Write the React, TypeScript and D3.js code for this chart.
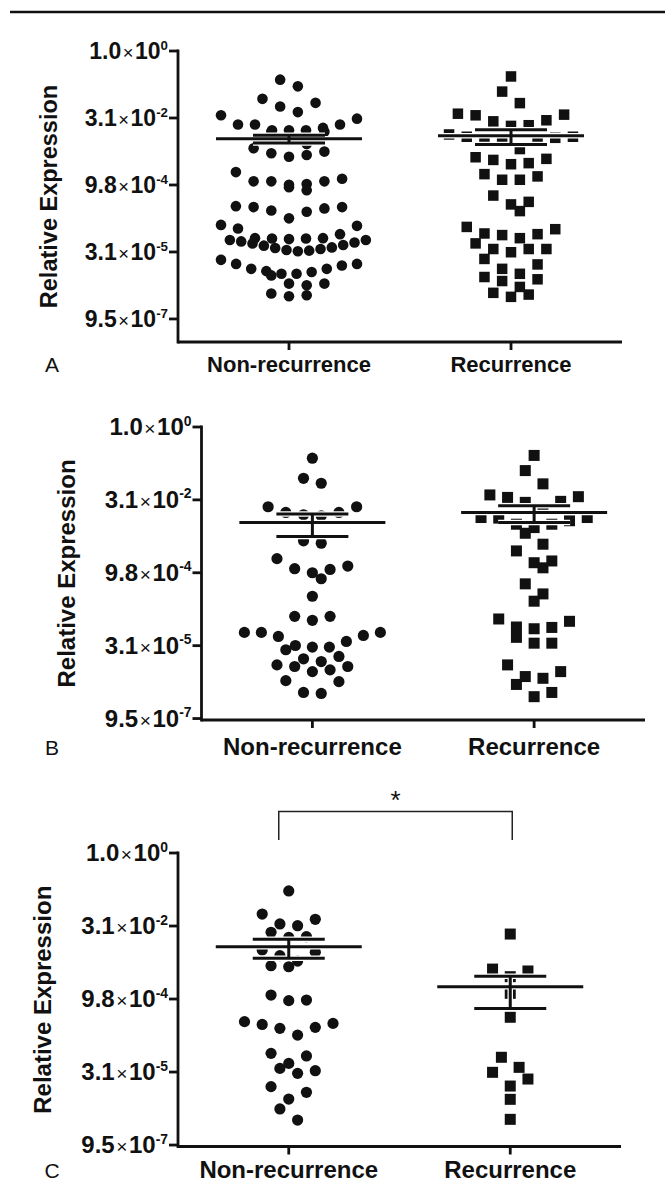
import * as d3 from "d3";

// ---------- DATA ----------
const categories = ["Non-recurrence", "Recurrence"];
const tickExponents = [0, -5, -10, -15, -20];
const tickMantissas = ["1.0", "3.1", "9.8", "3.1", "9.5"];
const tickPowers = ["0", "-2", "-4", "-5", "-7"];

// log2(relative expression)
const aNonRec = [
  -2.14, -2.64, -3.57, -3.87, -4.14, -4.56,
  -4.8, -5.05, -5.49, -5.49, -5.49, -5.74, -5.91, -5.91, -5.91, -6.03, -6.03,
  -6.64, -6.94, -7.26, -7.51, -7.63, -7.76, -7.89,
  -9.04,
  -9.53, -9.73, -9.73, -9.73, -9.93, -9.98, -10.17, -10.39,
  -11.58, -11.65, -11.65, -11.75, -11.9, -12.0,
  -12.49, -12.98, -13.05, -13.25, -13.67,
  -13.97, -13.97, -13.99, -13.99, -14.04, -14.11, -14.11, -14.21, -14.29,
  -14.36, -14.48, -14.53, -14.66, -14.7, -14.78, -14.85, -14.9, -14.95,
  -15.59, -15.89, -15.89, -16.01, -16.26, -16.26, -16.43, -16.5, -16.63, -16.63, -16.75,
  -17.36, -17.36, -17.49,
  -18.1, -18.23, -18.3,
];
const aRec = [
  -1.9, -3.03, -3.89,
  -4.68, -4.75, -4.8, -5.17, -5.25, -5.54, -5.59,
  -6.23, -6.4, -6.4, -6.48, -6.53, -6.7, -6.77, -7.32,
  -7.93, -8.05, -8.13, -8.37, -8.45,
  -9.19, -9.36, -9.61, -9.61,
  -10.79, -11.26, -11.45, -11.95,
  -13.13, -13.3, -13.62, -13.67, -13.74, -13.97,
  -14.36, -14.78, -14.78, -14.78, -15.02, -15.52,
  -15.93, -16.26, -16.63, -16.87, -17.04, -17.17,
  -17.61, -18.05, -18.18, -18.35,
];
const aMeans = [0.0107, 0.0124];
const aSems = [0.0021, 0.0045];

const bNonRec = [
  -2.14, -3.52, -3.86,
  -5.47, -5.47, -5.86, -5.86, -6.02, -6.09,
  -7.81, -7.97,
  -9.03, -9.54, -9.72, -9.77, -10.0, -10.41,
  -11.61,
  -12.99, -12.99, -13.26,
  -14.09, -14.09, -14.09, -14.3, -14.37, -14.71, -14.99, -15.1, -15.1, -15.28,
  -15.74, -15.9,
  -16.09, -16.32, -16.43, -16.43, -16.66, -16.78,
  -17.4, -17.47,
  -18.21, -18.28,
];
const bRec = [
  -1.95, -2.99, -3.9,
  -4.66, -4.78, -4.83, -5.1, -5.17,
  -5.59, -6.21, -6.21, -6.25, -6.43, -6.67, -6.67, -6.9, -7.29,
  -8.04, -8.5,
  -9.19, -9.31, -9.66,
  -10.76,
  -11.45, -11.95,
  -13.17, -13.33, -13.72, -13.75, -13.84,
  -14.43, -14.83, -14.83,
  -16.32,
  -16.78, -17.12, -17.24, -17.66,
  -18.21, -18.5,
];
const bMeans = [0.0107, 0.0172];
const bSems = [0.0052, 0.0065];

const cNonRec = [
  -2.6, -4.18, -4.54, -4.86, -4.98,
  -5.43, -5.73, -5.78,
  -6.64, -6.8, -7.03, -7.4, -7.72, -7.79,
  -9.73, -10.07, -10.11,
  -11.55, -11.67, -11.74, -11.94, -12.01, -12.47,
  -13.72, -13.9, -14.41, -14.75, -14.91, -15.09,
  -16.0, -16.39, -16.85, -17.53,
  -18.29,
];
const cRec = [
  -5.55, -7.95, -8.08, -8.47, -9.61, -11.25,
  -13.99, -14.68, -15.02, -15.48, -15.96, -16.87, -18.24,
];
const cMeans = [0.0117, 0.00175];
const cSems = [0.0049, 0.00113];

const FONT = "'Liberation Sans', Arial, Helvetica, sans-serif";
const INK = "#111";

// ---------- PANEL LAYOUT ----------
const panels = [
  {
    letter: "A", groups: [aNonRec, aRec], means: aMeans, sems: aSems,
    x0: 178, x1: 622, yTop: 51, yBottom: 342, minExp: -21.72,
    tickFont: 23, catFont: 22, baseline: 372, titleX: 49, titleFont: 23.5, r: 5.3, sq: 10.5,
  },
  {
    letter: "B", groups: [bNonRec, bRec], means: bMeans, sems: bSems,
    x0: 201.5, x1: 645, yTop: 427, yBottom: 720, minExp: -20.1,
    tickFont: 24, catFont: 24, baseline: 755, titleX: 66, titleFont: 24, r: 5.6, sq: 11,
  },
  {
    letter: "C", groups: [cNonRec, cRec], means: cMeans, sems: cSems,
    x0: 178, x1: 621, yTop: 853, yBottom: 1146.5, minExp: -20.1,
    tickFont: 24, catFont: 24, baseline: 1178, titleX: 42, titleFont: 24, r: 5.6, sq: 11,
    star: true,
  },
];

// Prism-like column scatter: rows of nearby values spread out, lowest value in the middle
function swarmOffsets(ys: number[], spacing: number, maxWidth: number, binH: number, diam: number) {
  const items = ys.map((y, i) => ({ i, y, x: 0 })).sort((a, b) => a.y - b.y);
  const bins: { i: number; y: number; x: number }[][] = [];
  let cur: { i: number; y: number; x: number }[] = [];
  let start = 0;
  items.forEach(it => {
    if (cur.length && it.y - start < binH) cur.push(it);
    else {
      if (cur.length) bins.push(cur);
      cur = [it];
      start = it.y;
    }
  });
  if (cur.length) bins.push(cur);

  const placed: { x: number; y: number }[] = [];
  bins.forEach(bin => {
    const n = bin.length;
    const s = n > 1 ? Math.min(spacing, maxWidth / (n - 1)) : 0;
    bin.forEach((it, j) => {
      const slot = j % 2 === 0 ? j / 2 : n - 1 - (j - 1) / 2;
      it.x = (slot - (n - 1) / 2) * s;
    });
    const hits = (dx: number) =>
      bin.some(a => placed.some(b => Math.hypot(a.x + dx - b.x, a.y - b.y) < diam * 0.9));
    if (hits(0)) {
      const h = spacing / 2;
      const dx = !hits(h) ? h : !hits(-h) ? -h : h;
      bin.forEach(it => (it.x += dx));
    }
    placed.push(...bin);
  });
  const out: number[] = new Array(ys.length);
  items.forEach(it => (out[it.i] = it.x));
  return out;
}

function Panel({ p }: { p: (typeof panels)[number] }) {
  const y = d3.scaleLog().base(2).domain([Math.pow(2, p.minExp), 1]).range([p.yBottom, p.yTop]);
  const x = d3.scalePoint().domain(categories).range([p.x0, p.x1]).padding(0.5);
  const diam = p.r * 2;

  const lines: { x1: number; x2: number; y1: number; y2: number }[] = [];
  categories.forEach((c, gi) => {
    const cx = x(c)!;
    const m = p.means[gi];
    const s = p.sems[gi];
    const yHi = y(m + s);
    const yLo = y(m - s);
    lines.push({ x1: cx - 73, x2: cx + 73, y1: y(m), y2: y(m) });
    lines.push({ x1: cx - 36, x2: cx + 36, y1: yHi, y2: yHi });
    lines.push({ x1: cx - 36, x2: cx + 36, y1: yLo, y2: yLo });
    lines.push({ x1: cx, x2: cx, y1: yHi, y2: yLo });
  });

  const cyMid = (p.yTop + p.yBottom) / 2;

  return (
    <g>
      {/* points */}
      {p.groups.map((vals, gi) => {
        const ys = vals.map(v => y(Math.pow(2, v)));
        const offs = swarmOffsets(ys, 17.7, 136, 15, diam);
        const cx = x(categories[gi])!;
        return (
          <g key={gi} fill={INK}>
            {ys.map((yy, k) =>
              gi === 0 ? (
                <circle key={k} cx={cx + offs[k]} cy={yy} r={p.r} />
              ) : (
                <rect key={k} x={cx + offs[k] - p.sq / 2} y={yy - p.sq / 2} width={p.sq} height={p.sq} />
              )
            )}
          </g>
        );
      })}

      {/* mean and SEM */}
      <g stroke="#fff" strokeWidth={5.5}>
        {lines.map((l, i) => <line key={i} {...l} />)}
      </g>
      <g stroke={INK} strokeWidth={3}>
        {lines.map((l, i) => <line key={i} {...l} />)}
      </g>

      {/* axes */}
      <g stroke={INK} strokeWidth={2.8} fill="none">
        <line x1={p.x0} x2={p.x0} y1={p.yTop - 1.4} y2={p.yBottom + 1.4} />
        <line x1={p.x0} x2={p.x1} y1={p.yBottom} y2={p.yBottom} />
        {tickExponents.map(e => (
          <line key={e} x1={p.x0 - 9} x2={p.x0} y1={y(Math.pow(2, e))} y2={y(Math.pow(2, e))} />
        ))}
        {categories.map(c => (
          <line key={c} x1={x(c)} x2={x(c)} y1={p.yBottom} y2={p.yBottom + 8} />
        ))}
      </g>

      {/* tick labels */}
      <g fontFamily={FONT} fill={INK} textAnchor="end">
        {tickExponents.map((e, i) => (
          <text key={e} x={p.x0 - 10} y={y(Math.pow(2, e)) + p.tickFont * 0.34} fontSize={p.tickFont} fontWeight="bold">
            {tickMantissas[i]}
            <tspan fontWeight="normal" fontSize={p.tickFont * 0.8} dx={1.5}>×</tspan>
            <tspan dx={1.5}>10</tspan>
            <tspan fontSize={p.tickFont * 0.58} dy={-p.tickFont * 0.4}>{tickPowers[i]}</tspan>
          </text>
        ))}
      </g>

      {/* y title */}
      <text
        transform={`translate(${p.titleX},${cyMid}) rotate(-90)`}
        dy="0.36em"
        textAnchor="middle"
        fontFamily={FONT}
        fontWeight="bold"
        fontSize={p.titleFont}
        fill={INK}
      >
        Relative Expression
      </text>

      {/* category labels */}
      {categories.map(c => (
        <text key={c} x={x(c)} y={p.baseline} textAnchor="middle" fontFamily={FONT} fontWeight="bold" fontSize={p.catFont} fill={INK}>
          {c}
        </text>
      ))}

      {/* panel letter */}
      <text x={52} y={p.baseline} textAnchor="middle" fontFamily={FONT} fontSize={21} fill={INK}>
        {p.letter}
      </text>

      {/* significance bracket */}
      {p.star && (
        <g>
          <path
            d={`M${x(categories[0])! - 10},840V811.5H${x(categories[1])! + 2}V840`}
            fill="none"
            stroke="#222"
            strokeWidth={1.5}
          />
          <text
            x={(x(categories[0])! - 10 + x(categories[1])! + 2) / 2}
            y={809}
            textAnchor="middle"
            fontFamily={FONT}
            fontSize={26}
            fill={INK}
          >
            *
          </text>
        </g>
      )}
    </g>
  );
}

export default function App() {
  return (
    <div style={{ position: "absolute", left: 0, top: 0 }}>
      <svg width={665} height={1184} style={{ display: "block", background: "#fff" }}>
        <line x1={10} x2={665} y1={12} y2={12} stroke={INK} strokeWidth={2.5} />
        {panels.map(p => (
          <Panel key={p.letter} p={p} />
        ))}
      </svg>
    </div>
  );
}
